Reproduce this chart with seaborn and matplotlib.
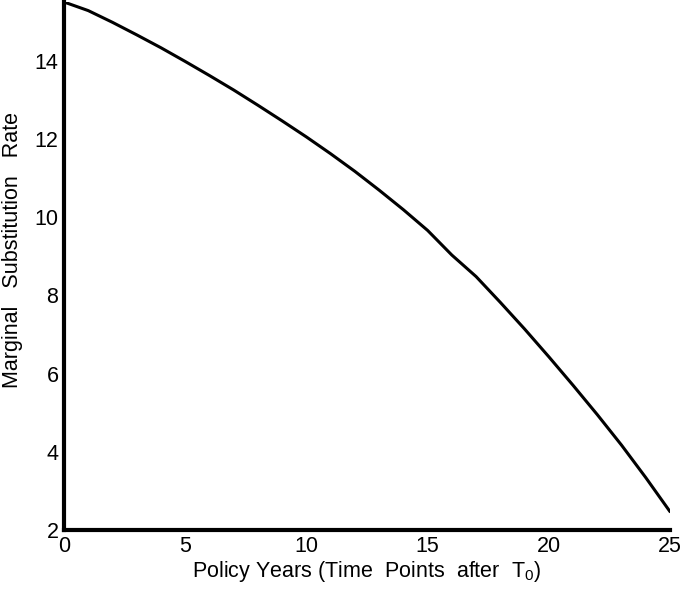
import matplotlib
matplotlib.use("Agg")
import matplotlib.pyplot as plt
import seaborn as sns
import pandas as pd

years = [0, 1, 2, 3, 4, 5, 6, 7, 8, 9, 10, 11, 12, 13, 14, 15, 16, 17, 18, 19, 20, 21, 22, 23, 24, 25]
mrs = [15.50, 15.28, 14.98, 14.66, 14.33, 13.98, 13.62, 13.25, 12.86, 12.46, 12.05,
       11.62, 11.17, 10.69, 10.19, 9.66, 9.03, 8.48, 7.82, 7.14, 6.43, 5.70, 4.95,
       4.17, 3.34, 2.47]
xticks = [0, 5, 10, 15, 20, 25]
yticks = [2, 4, 6, 8, 10, 12, 14]

sns.set_style("white")
plt.rcParams['font.family'] = ['Liberation Sans', 'DejaVu Sans']
plt.rcParams['mathtext.fontset'] = 'custom'
plt.rcParams['mathtext.rm'] = 'Liberation Sans'
plt.rcParams['mathtext.it'] = 'Liberation Sans'
plt.rcParams['mathtext.default'] = 'regular'
plt.rcParams['text.color'] = 'black'
plt.rcParams['axes.labelcolor'] = 'black'

df = pd.DataFrame({"year": years, "mrs": mrs})

fig = plt.figure(figsize=(6.85, 6.04), dpi=100)
ax = fig.add_axes([64/685, 74/604, 606/685, 528/604])
sns.lineplot(data=df, x="year", y="mrs", ax=ax, color="black", linewidth=2.2)

ax.set_xlim(0, 25)
ax.set_ylim(2, 15.5)
ax.set_xticks(xticks)
ax.set_yticks(yticks)
ax.tick_params(direction='in', length=6, width=2.5, labelsize=15.5, colors='black', pad=4)
for s in ['top', 'right']:
    ax.spines[s].set_visible(False)
for s in ['left', 'bottom']:
    ax.spines[s].set_linewidth(3)
    ax.spines[s].set_color('black')
ax.set_xlabel("Policy Years (Time  Points  after  T$_0$)", fontsize=15.5, labelpad=2)
ax.set_ylabel("Marginal   Substitution   Rate", fontsize=15.5)
ax.yaxis.set_label_coords(-0.068, 0.53)

fig.savefig("out.png", dpi=100)
